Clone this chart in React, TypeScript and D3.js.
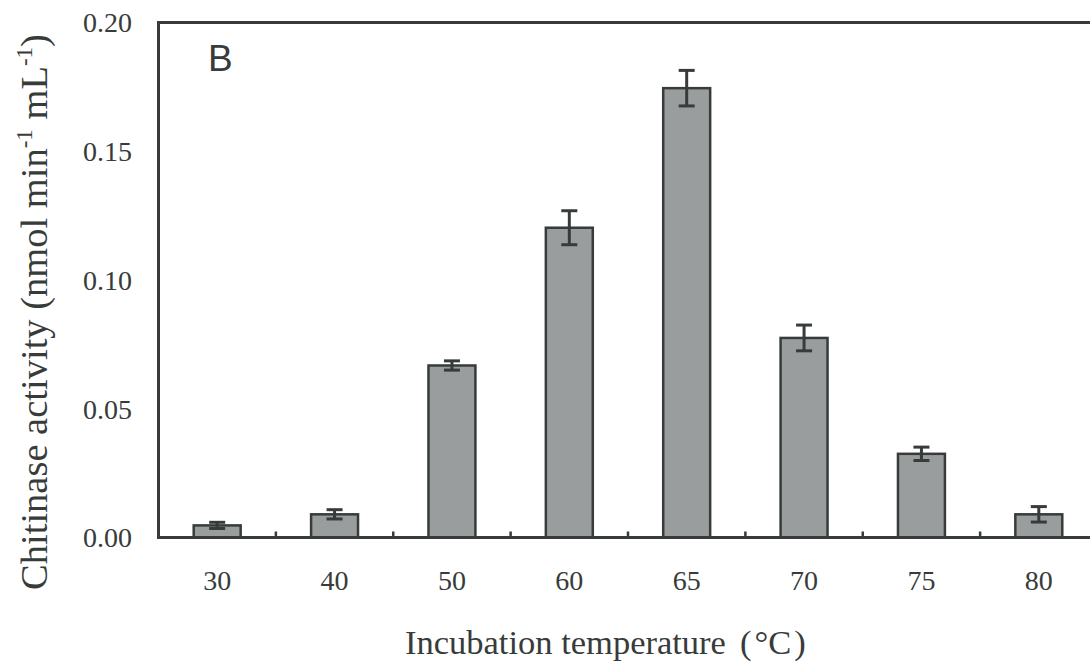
import React, { useEffect, useRef } from "react";
import * as d3 from "d3";

// temperatures (°C) and chitinase activity with error
const temps = ["30", "40", "50", "60", "65", "70", "75", "80"];
const activity = [0.0047, 0.009, 0.0668, 0.1203, 0.1745, 0.0775, 0.0325, 0.009];
const errors = [0.0012, 0.0018, 0.0018, 0.0066, 0.0069, 0.005, 0.0026, 0.003];
const yTicks = [0, 0.05, 0.1, 0.15, 0.2];

const W = 1090;
const H = 667;
const ink = "#373c3b";
const serif = "'Liberation Serif', 'Times New Roman', serif";

const App = () => {
  const ref = useRef<SVGSVGElement>(null);

  useEffect(() => {
    const svg = d3.select(ref.current);
    svg.selectAll("*").remove();

    const left = 158.5;
    const top = 22.5;
    const bottom = 537.5;
    const right = 1097.5;

    const x = d3.scaleBand().domain(temps).range([left, right]).paddingInner(0.6).paddingOuter(0.3);
    const y = d3.scaleLinear().domain([0, 0.2]).range([bottom, top]);

    // bars
    svg
      .append("g")
      .selectAll("rect")
      .data(temps)
      .enter()
      .append("rect")
      .attr("x", (d) => x(d)!)
      .attr("y", (d, i) => y(activity[i]))
      .attr("width", x.bandwidth())
      .attr("height", (d, i) => bottom - y(activity[i]))
      .attr("fill", "#9a9d9d")
      .attr("stroke", ink)
      .attr("stroke-width", 2.5);

    // error bars
    const eb = svg
      .append("g")
      .attr("stroke", ink)
      .attr("stroke-width", 3)
      .selectAll("g")
      .data(temps)
      .enter()
      .append("g");
    const cx = (d: string) => x(d)! + x.bandwidth() / 2;
    eb.append("line")
      .attr("x1", cx)
      .attr("x2", cx)
      .attr("y1", (d, i) => y(activity[i] + errors[i]))
      .attr("y2", (d, i) => y(activity[i] - errors[i]));
    eb.append("line")
      .attr("x1", (d) => cx(d) - 8)
      .attr("x2", (d) => cx(d) + 8)
      .attr("y1", (d, i) => y(activity[i] + errors[i]))
      .attr("y2", (d, i) => y(activity[i] + errors[i]));
    eb.append("line")
      .attr("x1", (d) => cx(d) - 8)
      .attr("x2", (d) => cx(d) + 8)
      .attr("y1", (d, i) => y(activity[i] - errors[i]))
      .attr("y2", (d, i) => y(activity[i] - errors[i]));

    // frame: top, left, bottom
    const axes = svg.append("g").attr("stroke", ink).attr("stroke-width", 3).attr("fill", "none");
    axes.append("path").attr("d", `M${W},${top}H${left}V${bottom}H${W}`);

    // x ticks between categories (inward)
    axes
      .selectAll("line.xt")
      .data(temps.slice(1))
      .enter()
      .append("line")
      .attr("x1", (d) => x(d)! - (x.step() * x.paddingInner()) / 2)
      .attr("x2", (d) => x(d)! - (x.step() * x.paddingInner()) / 2)
      .attr("y1", bottom)
      .attr("y2", bottom - 6)
      .attr("stroke-width", 2.5);

    // y tick labels
    svg
      .append("g")
      .selectAll("text")
      .data(yTicks)
      .enter()
      .append("text")
      .attr("x", 132)
      .attr("y", (d) => y(d))
      .attr("dy", "0.35em")
      .attr("text-anchor", "end")
      .attr("font-family", serif)
      .attr("font-size", 28)
      .attr("fill", ink)
      .text((d) => d3.format(".2f")(d));

    // x tick labels
    svg
      .append("g")
      .selectAll("text")
      .data(temps)
      .enter()
      .append("text")
      .attr("x", cx)
      .attr("y", 580)
      .attr("dy", "0.35em")
      .attr("text-anchor", "middle")
      .attr("font-family", serif)
      .attr("font-size", 28)
      .attr("fill", ink)
      .text((d) => d);

    // x title
    const xt = svg
      .append("text")
      .attr("x", 405)
      .attr("y", 654)
      .attr("font-family", serif)
      .attr("font-size", 34.5)
      .attr("fill", ink);
    xt.append("tspan").text("Incubation temperature");
    xt.append("tspan").attr("dx", 14).text("(");
    xt.append("tspan").attr("dx", 3).text("°C");
    xt.append("tspan").attr("dx", 3).text(")");

    // y title with superscripts
    const yt = svg
      .append("text")
      .attr("transform", "translate(47,312) rotate(-90)")
      .attr("text-anchor", "middle")
      .attr("font-family", serif)
      .attr("font-size", 38.5)
      .attr("fill", ink);
    yt.append("tspan").text("Chitinase activity (nmol min");
    yt.append("tspan").attr("font-size", 23).attr("dy", -15).text("-1");
    yt.append("tspan").attr("dy", 15).text(" mL");
    yt.append("tspan").attr("font-size", 23).attr("dy", -15).text("-1");
    yt.append("tspan").attr("dy", 15).text(")");

    // panel letter
    svg
      .append("text")
      .attr("x", 208)
      .attr("y", 71)
      .attr("font-family", "'Liberation Sans', Arial, sans-serif")
      .attr("font-size", 37)
      .attr("fill", ink)
      .text("B");
  }, []);

  return (
    <svg
      ref={ref}
      width={W}
      height={H}
      style={{ position: "absolute", left: 0, top: 0, background: "#fff" }}
    />
  );
};

export default App;
